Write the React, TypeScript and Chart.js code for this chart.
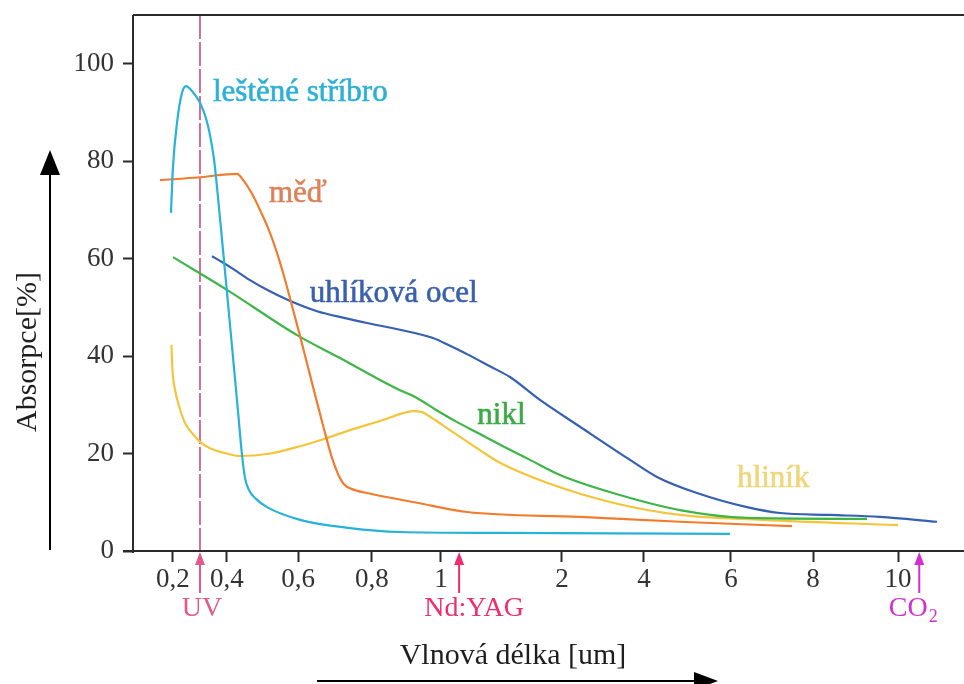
import React, { useEffect, useRef } from 'react';
import { Chart, LinearScale, registerables } from 'chart.js';

Chart.register(...registerables);

// ---------- axis definition ----------
const X_TICKS = [0.2, 0.4, 0.6, 0.8, 1, 2, 4, 6, 8, 10];
const X_TICK_LABELS = ['0,2', '0,4', '0,6', '0,8', '1', '2', '4', '6', '8', '10'];
// hand-drawn (non-uniform) axis: share of the plot width at each tick
const X_TICK_SHARE = [0.0481, 0.1131, 0.1986, 0.2876, 0.3706, 0.5162, 0.6149, 0.7196, 0.8183, 0.9206];
const Y_TICKS = [0, 20, 40, 60, 80, 100];

// ---------- data (wavelength µm, absorption %) ----------
const silverX = [0.1926, 0.2, 0.2148, 0.2333, 0.2481, 0.2704, 0.3, 0.3222, 0.337, 0.3519, 0.3667, 0.3852, 0.4028, 0.4169, 0.431, 0.4423, 0.4507, 0.462, 0.4817, 0.5127, 0.6054, 0.7405, 0.8812, 1.4876, 5.98];
const silverY = [69.4, 78.8, 87.8, 94.0, 95.4, 94.4, 92.0, 88.8, 85.4, 80.4, 72.6, 61.8, 50.9, 39.8, 28.7, 19.7, 15.0, 12.5, 10.7, 9.0, 6.4, 4.7, 3.9, 3.7, 3.5];

const copperX = [0.1519, 0.3, 0.4282, 0.4479, 0.4704, 0.493, 0.5155, 0.538, 0.5606, 0.5831, 0.6054, 0.6378, 0.6703, 0.6919, 0.7081, 0.7243, 0.7459, 0.7865, 0.9304, 1.2149, 2.439, 4.828, 7.488];
const copperY = [76.1, 76.7, 77.4, 75.9, 73.3, 70.0, 66.3, 61.8, 56.4, 50.3, 44.1, 34.5, 25.0, 19.1, 15.8, 13.7, 12.7, 11.9, 9.9, 8.0, 7.0, 6.0, 5.1];

const steelX = [0.3444, 0.3815, 0.4169, 0.4648, 0.5127, 0.5718, 0.6514, 0.727, 0.7865, 0.8812, 0.9768, 1.0744, 1.2149, 1.405, 1.5702, 1.8182, 2.439, 3.659, 4.299, 5.218, 6.39, 7.195, 8.4, 9.576, 10.918];
const steelY = [60.5, 59.3, 57.9, 55.6, 53.6, 51.5, 49.2, 47.8, 46.8, 45.4, 43.7, 42.1, 40.4, 37.9, 35.7, 31.0, 25.5, 18.7, 15.2, 11.9, 9.0, 7.8, 7.4, 7.0, 6.0];

const nickelX = [0.2, 0.4, 0.5972, 0.7135, 0.8232, 0.8812, 0.9304, 0.9826, 1.1157, 1.3223, 1.5289, 1.7355, 1.9835, 3.2439, 4.8276, 6.3902, 9.2706];
const nickelY = [60.3, 53.6, 44.3, 39.6, 35.1, 33.0, 31.4, 29.1, 26.7, 24.0, 21.3, 18.7, 15.6, 11.9, 8.4, 6.8, 6.6];

const aluX = [0.1944, 0.1981, 0.2074, 0.2222, 0.2444, 0.2741, 0.3, 0.337, 0.3926, 0.4366, 0.5127, 0.6054, 0.6704, 0.7405, 0.8319, 0.8899, 0.9188, 0.9449, 0.9739, 1.0744, 1.3223, 1.4876, 1.876, 3.244, 4.828, 6.78, 10.0];
const aluY = [42.3, 37.2, 33.2, 29.8, 26.3, 24.0, 22.4, 21.1, 20.1, 19.5, 19.9, 21.5, 23.0, 24.8, 26.9, 28.3, 28.7, 28.5, 27.3, 24.8, 20.7, 18.1, 14.0, 9.9, 7.4, 6.4, 5.3];

const SERIES = [
  { name: 'leštěné stříbro', x: silverX, y: silverY, color: '#27b2da' },
  { name: 'měď', x: copperX, y: copperY, color: '#f27c2e' },
  { name: 'uhlíková ocel', x: steelX, y: steelY, color: '#3561b0' },
  { name: 'nikl', x: nickelX, y: nickelY, color: '#3db648' },
  { name: 'hliník', x: aluX, y: aluY, color: '#f3c53a' },
];

// curve labels anchored in data units (left edge, vertical centre)
const CURVE_LABELS = [
  { text: 'leštěné stříbro', x: 0.348, y: 94.0, color: '#2cb0d6' },
  { text: 'měď', x: 0.518, y: 73.3, color: '#dc8258' },
  { text: 'uhlíková ocel', x: 0.632, y: 52.7, color: '#3a60ac' },
  { text: 'nikl', x: 1.3, y: 27.7, color: '#3aab45' },
  { text: 'hliník', x: 6.15, y: 14.8, color: '#efd679' },
];

// laser wavelengths marked under the axis
const MARKERS = [
  { text: 'UV', sub: '', x: 0.3, color: '#e2588a', dx: 2 },
  { text: 'Nd:YAG', sub: '', x: 1.15, color: '#f02c6e', dx: 15 },
  { text: 'CO', sub: '2', x: 10.5, color: '#d22ed2', dx: -6 },
];
const UV_LINE_X = 0.3;

function warp(v: number): number {
  const n = X_TICKS.length;
  let i = 0;
  if (v <= X_TICKS[0]) i = 0;
  else if (v >= X_TICKS[n - 1]) i = n - 2;
  else while (i < n - 2 && v > X_TICKS[i + 1]) i++;
  const t = (v - X_TICKS[i]) / (X_TICKS[i + 1] - X_TICKS[i]);
  return X_TICK_SHARE[i] + t * (X_TICK_SHARE[i + 1] - X_TICK_SHARE[i]);
}
function unwarp(f: number): number {
  const n = X_TICK_SHARE.length;
  let i = 0;
  if (f <= X_TICK_SHARE[0]) i = 0;
  else if (f >= X_TICK_SHARE[n - 1]) i = n - 2;
  else while (i < n - 2 && f > X_TICK_SHARE[i + 1]) i++;
  const t = (f - X_TICK_SHARE[i]) / (X_TICK_SHARE[i + 1] - X_TICK_SHARE[i]);
  return X_TICKS[i] + t * (X_TICKS[i + 1] - X_TICKS[i]);
}

class WarpScale extends LinearScale {
  static id = 'warp';
  static defaults = {};
  buildTicks() {
    return X_TICKS.map((v) => ({ value: v }));
  }
  getPixelForValue(value: number) {
    return this.getPixelForDecimal(warp(value));
  }
  getValueForPixel(pixel: number) {
    return unwarp(this.getDecimalForPixel(pixel));
  }
}
Chart.register(WarpScale as any);

const SERIF = '"Liberation Serif", "Times New Roman", serif';

function arrowUp(ctx: CanvasRenderingContext2D, x: number, tip: number, bottom: number, hw: number, hl: number, color: string, lw: number) {
  ctx.save();
  ctx.strokeStyle = color;
  ctx.fillStyle = color;
  ctx.lineWidth = lw;
  ctx.beginPath();
  ctx.moveTo(x, bottom);
  ctx.lineTo(x, tip + hl - 1);
  ctx.stroke();
  ctx.beginPath();
  ctx.moveTo(x, tip);
  ctx.lineTo(x - hw, tip + hl);
  ctx.lineTo(x + hw, tip + hl);
  ctx.closePath();
  ctx.fill();
  ctx.restore();
}

const decorPlugin = {
  id: 'decor',
  beforeDatasetsDraw(chart: any) {
    const { ctx, chartArea } = chart;
    const xs = chart.scales.x;
    const px = xs.getPixelForValue(UV_LINE_X);
    ctx.save();
    ctx.strokeStyle = '#cf4a7c';
    ctx.lineWidth = 1.6;
    ctx.setLineDash([24, 3]);
    ctx.beginPath();
    ctx.moveTo(px, chartArea.top);
    ctx.lineTo(px, chartArea.bottom);
    ctx.stroke();
    ctx.restore();
  },
  afterDraw(chart: any) {
    const { ctx, chartArea } = chart;
    const xs = chart.scales.x;
    const ys = chart.scales.y;
    const W = chart.width;
    ctx.save();
    // frame
    ctx.strokeStyle = '#2a2a2a';
    ctx.lineWidth = 2;
    ctx.beginPath();
    ctx.moveTo(chartArea.left, chartArea.top);
    ctx.lineTo(W, chartArea.top);
    ctx.moveTo(chartArea.left, chartArea.top);
    ctx.lineTo(chartArea.left, chartArea.bottom + 2);
    ctx.moveTo(chartArea.left - 10, chartArea.bottom);
    ctx.lineTo(W, chartArea.bottom);
    ctx.stroke();

    // curve labels
    ctx.font = `31px ${SERIF}`;
    ctx.textAlign = 'left';
    ctx.textBaseline = 'middle';
    ctx.lineWidth = 0.6;
    ctx.lineJoin = 'round';
    for (const l of CURVE_LABELS) {
      const x = xs.getPixelForValue(l.x);
      const y = ys.getPixelForValue(l.y);
      ctx.fillStyle = l.color;
      ctx.strokeStyle = l.color;
      ctx.fillText(l.text, x, y);
      ctx.strokeText(l.text, x, y);
    }

    // markers under the axis
    for (const m of MARKERS) {
      const x = xs.getPixelForValue(m.x);
      arrowUp(ctx, x, chartArea.bottom + 1, chartArea.bottom + 42, 5, 13, m.color, 2);
      ctx.fillStyle = m.color;
      ctx.font = `28px ${SERIF}`;
      ctx.textBaseline = 'middle';
      const w1 = ctx.measureText(m.text).width;
      let w2 = 0;
      if (m.sub) {
        ctx.font = `18px ${SERIF}`;
        w2 = ctx.measureText(m.sub).width + 1;
      }
      const left = x + m.dx - (w1 + w2) / 2;
      ctx.font = `28px ${SERIF}`;
      ctx.textAlign = 'left';
      ctx.fillText(m.text, left, chartArea.bottom + 58);
      if (m.sub) {
        ctx.font = `18px ${SERIF}`;
        ctx.fillText(m.sub, left + w1 + 1, chartArea.bottom + 66);
      }
    }

    // axis titles with arrows
    ctx.fillStyle = '#1e1e1e';
    ctx.font = `30px ${SERIF}`;
    ctx.textAlign = 'center';
    ctx.textBaseline = 'middle';
    ctx.fillText('Vlnová délka [um]', 513, chartArea.bottom + 105);
    ctx.save();
    ctx.translate(28, 352);
    ctx.rotate(-Math.PI / 2);
    ctx.fillText('Absorpce[%]', 0, 0);
    ctx.restore();

    // vertical arrow
    arrowUp(ctx, 50, 150, chartArea.bottom - 1, 10, 25, '#000', 2);
    // horizontal arrow
    ctx.strokeStyle = '#000';
    ctx.fillStyle = '#000';
    ctx.lineWidth = 2;
    ctx.beginPath();
    ctx.moveTo(317, 681);
    ctx.lineTo(697, 681);
    ctx.stroke();
    ctx.beginPath();
    ctx.moveTo(718, 681);
    ctx.lineTo(694, 672);
    ctx.lineTo(694, 690);
    ctx.closePath();
    ctx.fill();
    ctx.restore();
  },
};

export default function App() {
  const ref = useRef<HTMLCanvasElement | null>(null);
  useEffect(() => {
    if (!ref.current) return;
    const tickFont = { family: SERIF, size: 27 };
    const chart = new Chart(ref.current, {
      type: 'line',
      data: {
        datasets: SERIES.map((s) => ({
          label: s.name,
          data: s.x.map((x, i) => ({ x, y: s.y[i] })),
          borderColor: s.color,
          backgroundColor: s.color,
          borderWidth: 2.2,
          pointRadius: 0,
          cubicInterpolationMode: 'monotone' as const,
          fill: false,
        })),
      },
      options: {
        animation: false,
        responsive: false,
        events: [],
        layout: { padding: { top: 15, left: 0, right: 0, bottom: 0 } },
        plugins: { legend: { display: false }, tooltip: { enabled: false } },
        scales: {
          x: {
            type: 'warp' as any,
            min: 0.05,
            max: 11.2,
            border: { display: false },
            grid: { drawOnChartArea: false, drawTicks: true, tickLength: 11, tickColor: '#2a2a2a', tickWidth: 2 },
            ticks: {
              autoSkip: false,
              maxRotation: 0,
              padding: 2,
              color: '#333',
              font: tickFont,
              callback: (_v: any, i: number) => X_TICK_LABELS[i],
            },
            afterFit: (s: any) => {
              s.height = 133;
              s.paddingLeft = 0;
              s.paddingRight = 0;
            },
          },
          y: {
            type: 'linear',
            min: 0,
            max: 110,
            border: { display: false },
            grid: { drawOnChartArea: false, drawTicks: true, tickLength: 10, tickColor: '#2a2a2a', tickWidth: 2 },
            ticks: { padding: 9, color: '#333', font: tickFont, callback: (v: any) => String(v) },
            afterBuildTicks: (s: any) => {
              s.ticks = Y_TICKS.map((v) => ({ value: v }));
            },
            afterFit: (s: any) => {
              s.width = 133;
              s.paddingTop = 0;
              s.paddingBottom = 0;
            },
          },
        },
      },
      plugins: [decorPlugin],
    });
    return () => chart.destroy();
  }, []);
  return (
    <div style={{ position: 'fixed', left: 0, top: 0, width: 964, height: 684, background: '#fff' }}>
      <canvas ref={ref} width={964} height={684} style={{ display: 'block' }} />
    </div>
  );
}
